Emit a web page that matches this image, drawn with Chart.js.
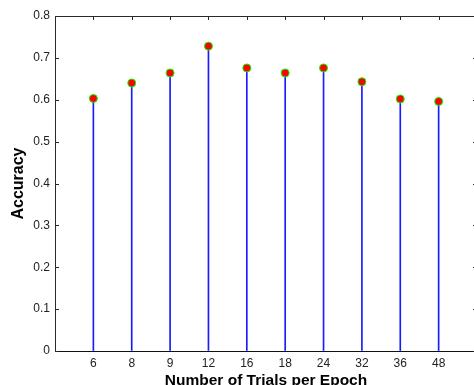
<!DOCTYPE html>
<html>
<head>
<meta charset="utf-8">
<script src="https://cdn.jsdelivr.net/npm/chart.js@4/dist/chart.umd.min.js"></script>
<style>
html,body{margin:0;padding:0;background:#fff;overflow:hidden;}
#wrap{position:relative;width:482px;height:385px;}
</style>
</head>
<body>
<div id="wrap"><canvas id="c" width="482" height="385"></canvas></div>
<script>
const categories = ['6','8','9','12','16','18','24','32','36','48'];
const accuracy = [0.603, 0.640, 0.664, 0.728, 0.676, 0.664, 0.676, 0.643, 0.602, 0.596];
const yTicks = [0, 0.1, 0.2, 0.3, 0.4, 0.5, 0.6, 0.7, 0.8];

const pts = categories.map((c, i) => ({x: i + 1, y: accuracy[i]}));
const AX = '#2a2a2a';

const framePlugin = {
  id: 'frame',
  afterDraw(chart) {
    const {ctx, chartArea: a, scales: {x, y}} = chart;
    ctx.save();
    ctx.strokeStyle = AX;
    ctx.lineWidth = 1;
    ctx.beginPath();
    ctx.moveTo(a.left, a.top + 0.5); ctx.lineTo(a.right, a.top + 0.5);
    ctx.moveTo(a.right - 0.5, a.top); ctx.lineTo(a.right - 0.5, a.bottom);
    yTicks.forEach(v => {
      const py = Math.round(y.getPixelForValue(v)) + 0.5;
      ctx.moveTo(a.left, py); ctx.lineTo(a.left + 4, py);
      ctx.moveTo(a.right, py); ctx.lineTo(a.right - 4, py);
    });
    categories.forEach((c, i) => {
      const px = Math.round(x.getPixelForValue(i + 1)) + 0.5;
      ctx.moveTo(px, a.top); ctx.lineTo(px, a.top + 4);
    });
    ctx.stroke();
    ctx.restore();
  }
};

new Chart(document.getElementById('c'), {
  type: 'bar',
  data: {
    datasets: [
      {
        type: 'bar',
        data: pts,
        backgroundColor: '#1a1aff',
        borderWidth: 0,
        barThickness: 1,
        order: 2
      },
      {
        type: 'scatter',
        data: pts,
        showLine: false,
        pointRadius: 4,
        pointBackgroundColor: '#ff0000',
        pointBorderColor: '#00ff00',
        pointBorderWidth: 1,
        order: 1
      }
    ]
  },
  options: {
    responsive: false,
    animation: false,
    events: [],
    layout: {padding: {top: 16, right: 3, left: 0, bottom: 0}},
    plugins: {legend: {display: false}, tooltip: {enabled: false}},
    scales: {
      x: {
        type: 'linear',
        min: 0, max: 11,
        offset: false,
        afterBuildTicks(s) { s.ticks = categories.map((c, i) => ({value: i + 1})); },
        afterFit(s) { s.height = 34; },
        grid: {display: true, drawOnChartArea: false, drawTicks: false},
        border: {display: true, color: '#111', width: 1},
        ticks: {
          autoSkip: false, maxRotation: 0, padding: 5, color: '#222',
          font: {family: '"Liberation Sans", Arial, sans-serif', size: 12},
          callback: (v) => categories[v - 1] ?? ''
        },
        title: {
          display: true, text: 'Number of Trials per Epoch', color: '#000',
          font: {family: '"Liberation Sans", Arial, sans-serif', size: 15.5, weight: 'bold'},
          padding: {top: 0, bottom: -5.5}
        }
      },
      y: {
        min: 0, max: 0.8,
        afterBuildTicks(s) { s.ticks = yTicks.map(v => ({value: v})); },
        afterFit(s) { s.width = 55; },
        grid: {display: true, drawOnChartArea: false, drawTicks: false},
        border: {display: true, color: AX, width: 1},
        ticks: {
          padding: 5, color: '#222',
          font: {family: '"Liberation Sans", Arial, sans-serif', size: 12},
          callback: (v) => String(Math.round(v * 10) / 10)
        },
        title: {
          display: true, text: 'Accuracy', color: '#000',
          font: {family: '"Liberation Sans", Arial, sans-serif', size: 16, weight: 'bold'},
          padding: {top: 8.5, bottom: 0}
        }
      }
    }
  },
  plugins: [framePlugin]
});
</script>
</body>
</html>
